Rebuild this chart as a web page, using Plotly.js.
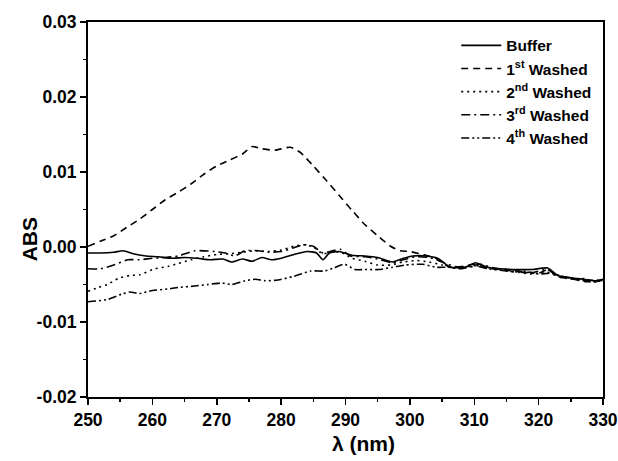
<!DOCTYPE html>
<html>
<head>
<meta charset="utf-8">
<script src="https://cdn.plot.ly/plotly-3.0.1.min.js"></script>
<style>html,body{margin:0;padding:0;background:#fff;}#chart{width:618px;height:461px;}</style>
</head>
<body>
<div id="chart"></div>
<script>
// ---- data ----
const seriesNames = ["Buffer", "1<sup>st</sup> Washed", "2<sup>nd</sup> Washed", "3<sup>rd</sup> Washed", "4<sup>th</sup> Washed"];

const bufferX = [250,252,254,255.5,257,259,261,263,265,267,269,271,272.3,274,275.5,277,278.5,280,282,284,285.5,286.5,287.5,289,291,293,295,297.3,299,300.5,302.5,304.3,306.3,308.5,310.2,312,314,316.5,319,321.4,323,325,327,329,330];
const bufferY = [-0.0008,-0.0008,-0.0007,-0.0005,-0.0009,-0.0012,-0.0013,-0.0015,-0.0014,-0.0015,-0.0017,-0.0016,-0.0020,-0.0016,-0.0019,-0.0014,-0.0017,-0.0015,-0.0010,-0.0006,-0.0008,-0.0017,-0.0008,-0.0006,-0.0011,-0.0012,-0.0014,-0.0020,-0.0015,-0.0012,-0.0012,-0.0015,-0.0027,-0.0027,-0.0021,-0.0027,-0.0029,-0.0030,-0.0030,-0.0028,-0.0038,-0.0041,-0.0043,-0.0045,-0.0043];

const wash1X = [250,252,254,256,258,260,262,264,266,268,270,272,274,275.5,277,279,281.4,283,285,287,289,291,293,295,297,298.5,300,302,304,306,308,310,312,314,316,318,320,321.5,323,325,327,329,330];
const wash1Y = [0.0001,0.0008,0.0015,0.0026,0.0037,0.0050,0.0063,0.0073,0.0084,0.0097,0.0108,0.0116,0.0124,0.0134,0.0131,0.0129,0.0133,0.0126,0.0108,0.0089,0.0069,0.0049,0.0030,0.0015,0.0001,-0.0005,-0.0006,-0.0010,-0.0015,-0.0026,-0.0026,-0.0023,-0.0028,-0.0030,-0.0032,-0.0033,-0.0035,-0.0030,-0.0040,-0.0042,-0.0046,-0.0046,-0.0044];

const wash2X = [250,251.6,253,254.7,256.5,258,260.4,262.4,264,266,268,270,272,274,276,278,280,282,283.5,285,286.5,288,289.5,291,293,295,297,299,301,303,305,307,309,311,313,315,317,319,321,323,325,327,329,330];
const wash2Y = [-0.0059,-0.0054,-0.0050,-0.0042,-0.0038,-0.0037,-0.0029,-0.0026,-0.0022,-0.0017,-0.0013,-0.0010,-0.0009,-0.0007,-0.0005,-0.0006,-0.0004,0.0001,0.0003,0.0000,-0.0009,-0.0006,-0.0008,-0.0015,-0.0019,-0.0024,-0.0024,-0.0020,-0.0018,-0.0020,-0.0024,-0.0028,-0.0027,-0.0025,-0.0029,-0.0032,-0.0034,-0.0036,-0.0033,-0.0039,-0.0043,-0.0042,-0.0047,-0.0041];

const wash3X = [250,252,254,256.2,258,260,262,264,266.6,269.7,271.3,272.8,274.4,276.5,278,280,282,283.5,285,286.5,288,289.2,290.8,293,295,297.3,299,301,303,305,307,309,311,313,315,317,319,321.3,323,325,327,329,330];
const wash3Y = [-0.0029,-0.0029,-0.0024,-0.0017,-0.0017,-0.0015,-0.0014,-0.0012,-0.0005,-0.0006,-0.0008,-0.0012,-0.0005,-0.0005,-0.0007,-0.0006,-0.0001,0.0003,0.0001,-0.0008,-0.0005,-0.0003,-0.0012,-0.0013,-0.0016,-0.0021,-0.0017,-0.0013,-0.0014,-0.0020,-0.0026,-0.0026,-0.0023,-0.0028,-0.0030,-0.0031,-0.0034,-0.0030,-0.0039,-0.0041,-0.0045,-0.0044,-0.0045];

const wash4X = [250,253,255.2,256.5,258,260,262.4,264,266.6,268.7,270.8,272.3,274.4,276,277.5,279.5,282,284.6,286.7,288.2,289.8,291.5,293,295.2,297.3,299.3,302,304,306,308,310,312,314,316,318,320,322,324,326,328,330];
const wash4Y = [-0.0073,-0.0070,-0.0063,-0.0060,-0.0062,-0.0058,-0.0056,-0.0054,-0.0052,-0.0050,-0.0048,-0.0050,-0.0045,-0.0043,-0.0045,-0.0044,-0.0039,-0.0032,-0.0032,-0.0028,-0.0023,-0.0030,-0.0030,-0.0030,-0.0027,-0.0024,-0.0023,-0.0027,-0.0027,-0.0029,-0.0025,-0.0029,-0.0031,-0.0033,-0.0034,-0.0036,-0.0035,-0.0040,-0.0043,-0.0046,-0.0045];

const xTickVals = [250,260,270,280,290,300,310,320,330];
const xTickText = ["250","260","270","280","290","300","310","320","330"];
const yTickVals = [-0.02,-0.01,0,0.01,0.02,0.03];
const yTickText = ["-0.02","-0.01","0.00","0.01","0.02","0.03"];
const xTitle = "λ (nm)";
const yTitle = "ABS";

// ---- styling ----
const dashes = ["solid", "7px,5px", "2px,4px", "9px,4px,2px,4px", "8px,3px,2px,3px,2px,3px"];
const xs = [bufferX, wash1X, wash2X, wash3X, wash4X];
const ys = [bufferY, wash1Y, wash2Y, wash3Y, wash4Y];

const traces = xs.map((x, i) => ({
  x: x, y: ys[i], type: "scatter", mode: "lines", name: seriesNames[i],
  line: {color: "#000", width: 1.6, dash: dashes[i], shape: "spline", smoothing: 0.6}
}));

const font = "Liberation Sans, Arial, sans-serif";
const titleFont = {family: font, size: 21, color: "#000", weight: "bold"};
const layout = {
  width: 618, height: 461,
  margin: {l: 88, r: 15, t: 22, b: 64},
  paper_bgcolor: "#fff", plot_bgcolor: "#fff",
  showlegend: true,
  legend: {
    x: 0.715, y: 0.982, xanchor: "left", yanchor: "top",
    bgcolor: "rgba(0,0,0,0)", borderwidth: 0,
    font: {family: font, size: 15.5, color: "#000", weight: "bold"},
    itemwidth: 40, tracegroupgap: 0
  },
  xaxis: {
    range: [250, 330], tickmode: "array", tickvals: xTickVals, ticktext: xTickText,
    ticks: "outside", ticklen: 6, tickwidth: 1.5, tickcolor: "#000",
    minor: {dtick: 5, ticks: "outside", ticklen: 3, tickwidth: 1.5, tickcolor: "#000"},
    showline: true, linecolor: "#000", linewidth: 2, mirror: true,
    showgrid: false, zeroline: false,
    tickfont: {family: font, size: 17.5, color: "#000", weight: "bold"}
  },
  yaxis: {
    range: [-0.02, 0.03], tickmode: "array", tickvals: yTickVals, ticktext: yTickText,
    ticks: "outside", ticklen: 6, tickwidth: 1.5, tickcolor: "#000",
    minor: {dtick: 0.005, ticks: "outside", ticklen: 3, tickwidth: 1.5, tickcolor: "#000"},
    showline: true, linecolor: "#000", linewidth: 2, mirror: true,
    showgrid: false, zeroline: false,
    tickfont: {family: font, size: 17.5, color: "#000", weight: "bold"}
  },
  annotations: [
    {text: xTitle, xref: "paper", yref: "paper", x: 0.534, y: -0.123, xanchor: "center", yanchor: "middle",
     showarrow: false, font: titleFont},
    {text: yTitle, xref: "paper", yref: "paper", x: -0.113, y: 0.42, xanchor: "center", yanchor: "middle",
     textangle: -90, showarrow: false, font: titleFont}
  ]
};

Plotly.newPlot("chart", traces, layout, {displayModeBar: false, staticPlot: true});
</script>
</body>
</html>
